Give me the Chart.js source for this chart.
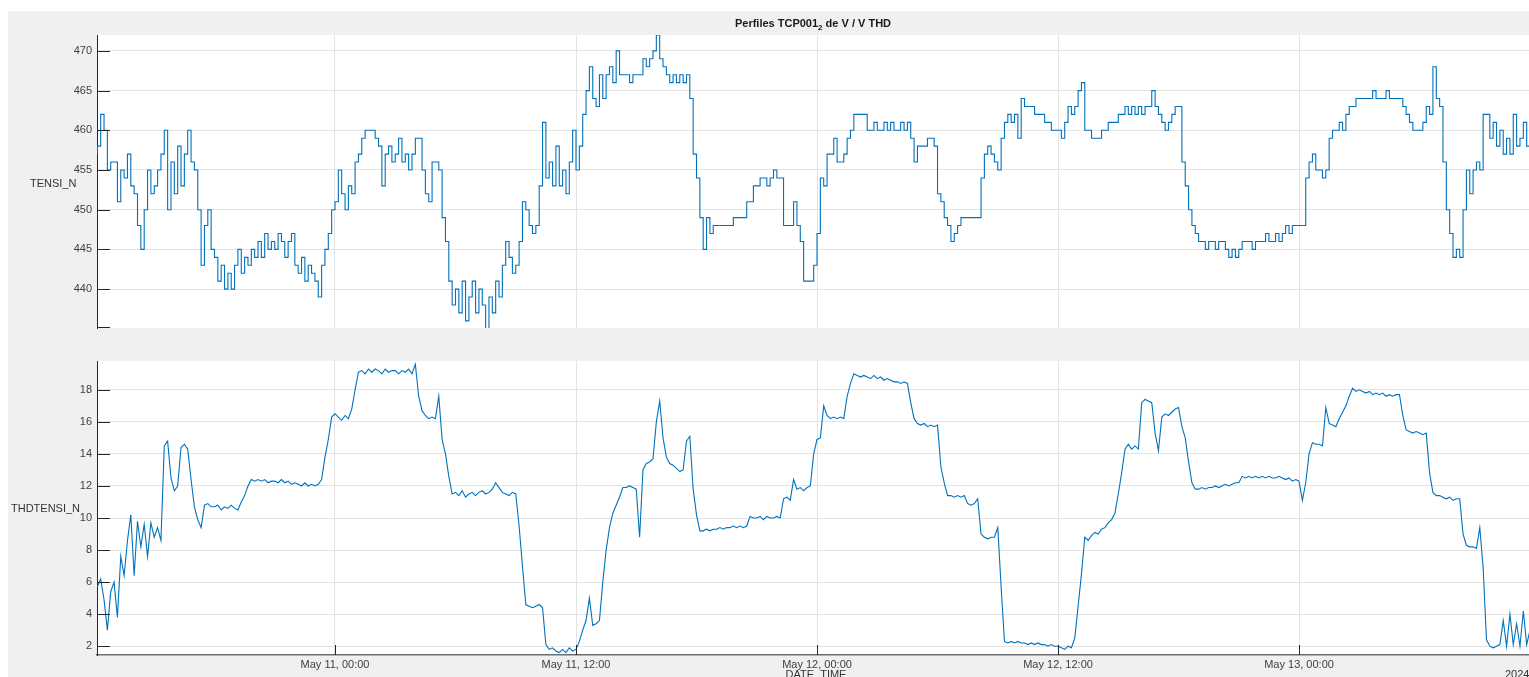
<!DOCTYPE html>
<html>
<head>
<meta charset="utf-8">
<title>Perfiles TCP001 de V / V THD</title>
<script src="https://cdn.jsdelivr.net/npm/chart.js@4.4.1/dist/chart.umd.min.js"></script>
<style>
  html, body { margin: 0; padding: 0; background: #fff; overflow: hidden; }
  body { width: 1529px; height: 677px; position: relative; font-family: "Liberation Sans", Arial, sans-serif; }
  #frame { position: absolute; left: 8px; top: 11px; width: 1521px; height: 666px; background: #f0f0f0; }
  canvas { position: absolute; left: 0; }
  #tensi-chart { top: 0; }
  #thd-chart { top: 340px; }
  .title { position: absolute; top: 17px; left: 97px; width: 1432px; text-align: center;
           font-weight: bold; font-size: 11px; color: #1a1a1a; }
  .title sub { font-size: 8px; line-height: 0; vertical-align: -3px; }
  .lbl { position: absolute; font-size: 11px; color: #333; white-space: nowrap; }
</style>
</head>
<body>
<div id="frame"></div>
<canvas id="tensi-chart" width="1529" height="340"></canvas>
<canvas id="thd-chart" width="1529" height="337"></canvas>
<div class="title">Perfiles TCP001<sub>2</sub> de V / V THD</div>
<div class="lbl" style="left:30px; top:177px;">TENSI_N</div>
<div class="lbl" style="left:11px; top:502px;">THDTENSI_N</div>
<div class="lbl" style="left:0; width:1632px; text-align:center; top:668px;">DATE_TIME</div>
<div class="lbl" style="left:1505px; top:668px;">2024</div>
<script>
// --- Samples: 10-minute steps from May 10, 12:00 (hours counted from May 10, 00:00) ---
const START_HOUR = 12;
const STEP_HOURS = 1 / 6;

// TENSI_N, one row per hour
const tensiValues = [
  457, 458, 462, 460, 455, 456,   // 12h
  456, 451, 455, 454, 457, 453,
  452, 448, 445, 450, 455, 452,
  453, 455, 457, 460, 450, 456,
  452, 458, 453, 457, 460, 456,
  455, 450, 443, 448, 450, 445,
  444, 441, 443, 440, 442, 440,
  443, 445, 442, 444, 443, 445,
  444, 446, 444, 447, 445, 446,   // 20h
  445, 447, 446, 444, 446, 447,
  443, 442, 444, 441, 443, 442,
  441, 439, 443, 445, 447, 450,
  451, 455, 452, 450, 453, 452,   // May 11
  456, 457, 459, 460, 460, 460,
  459, 458, 453, 457, 458, 456,
  457, 459, 456, 457, 455, 457,
  459, 459, 455, 452, 451, 456,
  456, 455, 449, 446, 441, 438,
  440, 437, 441, 436, 439, 441,   // 30h
  437, 440, 438, 435, 439, 437,
  441, 439, 443, 446, 444, 442,
  443, 446, 451, 450, 448, 447,
  448, 453, 461, 454, 456, 453,
  458, 453, 455, 452, 456, 460,
  455, 458, 462, 465, 468, 464,   // May 11 12:00
  463, 467, 464, 467, 468, 466,
  470, 467, 467, 467, 466, 467,
  467, 467, 469, 468, 469, 470,
  472, 469, 468, 467, 466, 467,   // 40h
  466, 467, 466, 467, 464, 457,
  454, 449, 445, 449, 447, 448,
  448, 448, 448, 448, 448, 449,
  449, 449, 449, 451, 451, 453,
  453, 454, 454, 453, 454, 455,
  454, 454, 448, 448, 448, 451,
  448, 446, 441, 441, 441, 443,
  447, 454, 453, 457, 457, 459,   // May 12
  456, 456, 457, 459, 460, 462,
  462, 462, 462, 460, 460, 461,   // 50h
  460, 460, 461, 460, 461, 460,
  460, 461, 460, 461, 459, 456,
  458, 458, 458, 459, 459, 458,
  452, 451, 449, 448, 446, 447,
  448, 449, 449, 449, 449, 449,
  449, 454, 457, 458, 457, 456,
  455, 459, 461, 462, 461, 462,
  459, 464, 463, 463, 463, 462,
  462, 462, 461, 461, 460, 460,
  460, 459, 461, 463, 462, 463,   // May 12 12:00
  465, 466, 460, 460, 459, 459,
  459, 460, 460, 461, 461, 461,
  462, 462, 463, 462, 463, 462,
  463, 462, 463, 463, 465, 463,
  462, 461, 460, 461, 462, 463,
  463, 456, 453, 450, 448, 447,
  446, 446, 445, 446, 446, 445,
  446, 446, 445, 444, 445, 444,
  445, 446, 446, 446, 445, 446,
  446, 446, 447, 446, 446, 447,   // 70h
  446, 447, 448, 447, 448, 448,
  448, 448, 454, 456, 457, 455,   // May 13
  455, 454, 455, 459, 460, 460,
  461, 460, 462, 463, 463, 464,
  464, 464, 464, 464, 465, 464,
  464, 464, 465, 464, 464, 464,
  464, 463, 462, 461, 460, 460,
  460, 461, 463, 462, 468, 464,
  463, 456, 450, 447, 444, 445,
  444, 450, 455, 452, 455, 456,   // 80h
  455, 462, 462, 459, 461, 458,
  460, 457, 459, 457, 462, 458,
  459, 461, 458, 460
];

// THDTENSI_N, one row per hour
const thdValues = [
  5.8, 5.7, 6.2, 4.9, 3.0, 5.4,   // 12h
  6.0, 3.8, 7.6, 6.4, 8.6, 10.2,
  6.4, 9.8, 8.2, 9.6, 7.6, 9.7,
  8.8, 9.4, 8.6, 14.5, 14.8, 12.5,
  11.7, 12.0, 14.4, 14.6, 14.3, 12.4,
  10.7, 9.9, 9.4, 10.8, 10.9, 10.7,
  10.7, 10.8, 10.5, 10.7, 10.6, 10.8,
  10.6, 10.5, 11.0, 11.4, 12.0, 12.4,
  12.3, 12.4, 12.3, 12.4, 12.2, 12.3,   // 20h
  12.3, 12.2, 12.4, 12.2, 12.3, 12.1,
  12.2, 12.1, 12.0, 12.2, 12.0, 12.1,
  12.0, 12.1, 12.4, 13.8, 14.9, 16.3,
  16.5, 16.3, 16.1, 16.4, 16.2, 16.8,   // May 11
  18.0, 19.1, 19.2, 19.0, 19.3, 19.1,
  19.3, 19.2, 19.0, 19.3, 19.1, 19.2,
  19.2, 19.0, 19.2, 19.1, 19.3, 19.0,
  19.6, 17.6, 16.7, 16.4, 16.2, 16.3,
  16.2, 17.6, 14.9, 14.0, 12.6, 11.5,
  11.6, 11.4, 11.7, 11.3, 11.5, 11.6,   // 30h
  11.4, 11.6, 11.7, 11.5, 11.6, 11.8,
  12.2, 11.9, 11.6, 11.5, 11.4, 11.6,
  11.5, 9.5, 7.0, 4.6, 4.5, 4.4,
  4.5, 4.6, 4.4, 2.1, 1.8, 1.9,
  1.7, 1.6, 1.8, 1.6, 1.9, 1.7,
  1.8, 2.3, 3.0, 3.6, 5.0, 3.3,   // May 11 12:00
  3.4, 3.6, 6.0, 8.0, 9.4, 10.3,
  10.8, 11.3, 11.9, 11.9, 12.0, 11.9,
  11.8, 8.8, 13.0, 13.4, 13.5, 13.7,
  16.0, 17.3, 15.0, 13.8, 13.4, 13.3,   // 40h
  13.1, 12.9, 13.0, 14.8, 15.1, 11.8,
  10.2, 9.2, 9.2, 9.3, 9.2, 9.3,
  9.3, 9.4, 9.3, 9.4, 9.4, 9.5,
  9.4, 9.5, 9.4, 9.5, 10.1, 10.0,
  10.0, 10.1, 9.9, 10.1, 10.0, 10.0,
  10.1, 10.0, 11.2, 11.3, 11.1, 12.4,
  11.8, 11.9, 11.7, 11.9, 12.0, 14.0,
  14.9, 15.0, 17.0, 16.4, 16.2, 16.3,   // May 12
  16.2, 16.3, 16.2, 17.6, 18.4, 19.0,
  18.9, 18.8, 18.9, 18.8, 18.7, 18.9,   // 50h
  18.7, 18.8, 18.6, 18.7, 18.6, 18.5,
  18.5, 18.4, 18.5, 18.4, 17.2, 16.2,
  15.9, 15.8, 15.9, 15.7, 15.8, 15.7,
  15.8, 13.2, 12.2, 11.4, 11.4, 11.3,
  11.4, 11.3, 11.4, 10.9, 10.8, 10.9,
  11.2, 9.0, 8.8, 8.7, 8.8, 8.8,
  9.4, 5.7, 2.3, 2.2, 2.3, 2.2,
  2.3, 2.2, 2.2, 2.1, 2.2, 2.1,
  2.2, 2.1, 2.1, 2.0, 2.1, 2.0,
  2.0, 1.9, 1.8, 2.0, 1.9, 2.5,   // May 12 12:00
  4.5, 6.5, 8.8, 8.6, 8.9, 9.1,
  9.0, 9.3, 9.4, 9.7, 9.9, 10.3,
  11.5, 12.8, 14.3, 14.6, 14.3, 14.5,
  14.3, 17.2, 17.4, 17.3, 17.2, 15.3,
  14.2, 16.3, 16.5, 16.4, 16.6, 16.8,
  16.9, 15.7, 15.0, 13.5, 12.2, 11.8,
  11.8, 11.9, 11.8, 11.9, 11.9, 12.0,
  11.9, 12.0, 12.1, 12.0, 12.1, 12.2,
  12.2, 12.6, 12.5, 12.6, 12.5, 12.6,
  12.5, 12.6, 12.5, 12.6, 12.5, 12.5,   // 70h
  12.6, 12.5, 12.4, 12.5, 12.3, 12.4,
  12.3, 11.1, 12.2, 14.0, 14.7, 14.6,   // May 13
  14.6, 14.5, 16.9, 15.9, 15.8, 15.7,
  16.2, 16.6, 17.0, 17.6, 18.1, 17.9,
  18.0, 17.9, 17.8, 17.9, 17.7, 17.8,
  17.7, 17.8, 17.6, 17.7, 17.6, 17.7,
  17.7, 16.4, 15.5, 15.4, 15.3, 15.4,
  15.3, 15.2, 15.3, 12.8, 11.6, 11.4,
  11.4, 11.3, 11.2, 11.3, 11.1, 11.2,
  11.2, 9.0, 8.3, 8.2, 8.2, 8.1,   // 80h
  9.4, 6.9, 2.4, 2.0, 1.9, 2.0,
  2.1, 3.6, 2.0, 4.0, 2.1, 3.4,
  2.0, 4.2, 2.1, 3.0
];

// --- Axes ---
const X_MIN = 12.15, X_MAX = 83.45;
const tickHours = [24, 36, 48, 60, 72];
const tickLabels = ['May 11, 00:00', 'May 11, 12:00', 'May 12, 00:00', 'May 12, 12:00', 'May 13, 00:00'];
const tensiTicks = [440, 445, 450, 455, 460, 465, 470];
const thdTicks = [2, 4, 6, 8, 10, 12, 14, 16, 18];
const TENSI_RANGE = [435.1, 472];
const THD_RANGE = [1.45, 19.8];

const LINE = '#0072BD';
const GRID = '#e3e3e3';
const AXIS = '#262626';
const TEXT = '#404040';
const FONT = { family: '"Liberation Sans", Arial, sans-serif', size: 11 };

const toPoints = vals => vals.map((v, i) => ({ x: START_HOUR + i * STEP_HOURS, y: v }));

// white plot box + inward tick marks
const panelFrame = {
  id: 'panelFrame',
  beforeDraw(chart) {
    const { ctx, chartArea: a } = chart;
    ctx.save();
    ctx.fillStyle = '#fff';
    ctx.fillRect(a.left, a.top, a.right - a.left, a.bottom - a.top);
    ctx.restore();
  },
  afterDatasetsDraw(chart, args, opts) {
    const { ctx, chartArea: a, scales } = chart;
    ctx.save();
    ctx.strokeStyle = AXIS;
    ctx.lineWidth = 1;
    ctx.beginPath();
    scales.y.ticks.forEach(t => {
      const y = Math.round(scales.y.getPixelForValue(t.value)) + 0.5;
      ctx.moveTo(a.left, y); ctx.lineTo(a.left + 13, y);
    });
    if (opts.bottomTick) {
      const y = Math.round(a.bottom) - 0.5;
      ctx.moveTo(a.left, y); ctx.lineTo(a.left + 13, y);
    }
    if (opts.xTicks) {
      scales.x.ticks.forEach(t => {
        const x = Math.round(scales.x.getPixelForValue(t.value)) + 0.5;
        ctx.moveTo(x, a.bottom); ctx.lineTo(x, a.bottom - 10);
      });
    }
    ctx.stroke();
    ctx.restore();
  }
};

function makePanel(id, values, range, yTicks, opts) {
  return new Chart(document.getElementById(id), {
    type: 'line',
    data: {
      datasets: [{
        data: toPoints(values),
        borderColor: LINE, borderWidth: 1.1,
        pointRadius: 0, tension: 0, stepped: opts.stepped
      }]
    },
    options: {
      responsive: false, animation: false, events: [],
      layout: { padding: opts.padding },
      plugins: {
        legend: { display: false },
        tooltip: { enabled: false },
        panelFrame: { xTicks: opts.showX, bottomTick: !opts.showX }
      },
      scales: {
        x: {
          type: 'linear', min: X_MIN, max: X_MAX,
          afterBuildTicks: s => { s.ticks = tickHours.map(v => ({ value: v })); },
          afterFit: s => { s.height = opts.showX ? 22 : 0; },
          ticks: {
            display: opts.showX, padding: 3, color: TEXT, font: FONT, maxRotation: 0,
            callback: (v, i) => tickLabels[i]
          },
          grid: { color: GRID, drawTicks: false },
          border: { display: opts.showX, color: '#6e6e6e', width: 1.5 }
        },
        y: {
          min: range[0], max: range[1],
          afterBuildTicks: s => { s.ticks = yTicks.map(v => ({ value: v })); },
          afterFit: s => { s.width = 97; },
          ticks: { padding: 5, color: TEXT, font: FONT },
          grid: { color: GRID, drawTicks: false },
          border: { color: AXIS, width: 1 }
        }
      }
    },
    plugins: [panelFrame]
  });
}

makePanel('tensi-chart', tensiValues, TENSI_RANGE, tensiTicks,
  { stepped: true, showX: false, padding: { top: 35, bottom: 12, left: 0, right: 0 } });
makePanel('thd-chart', thdValues, THD_RANGE, thdTicks,
  { stepped: false, showX: true, padding: { top: 21, bottom: 0, left: 0, right: 0 } });
</script>
</body>
</html>
